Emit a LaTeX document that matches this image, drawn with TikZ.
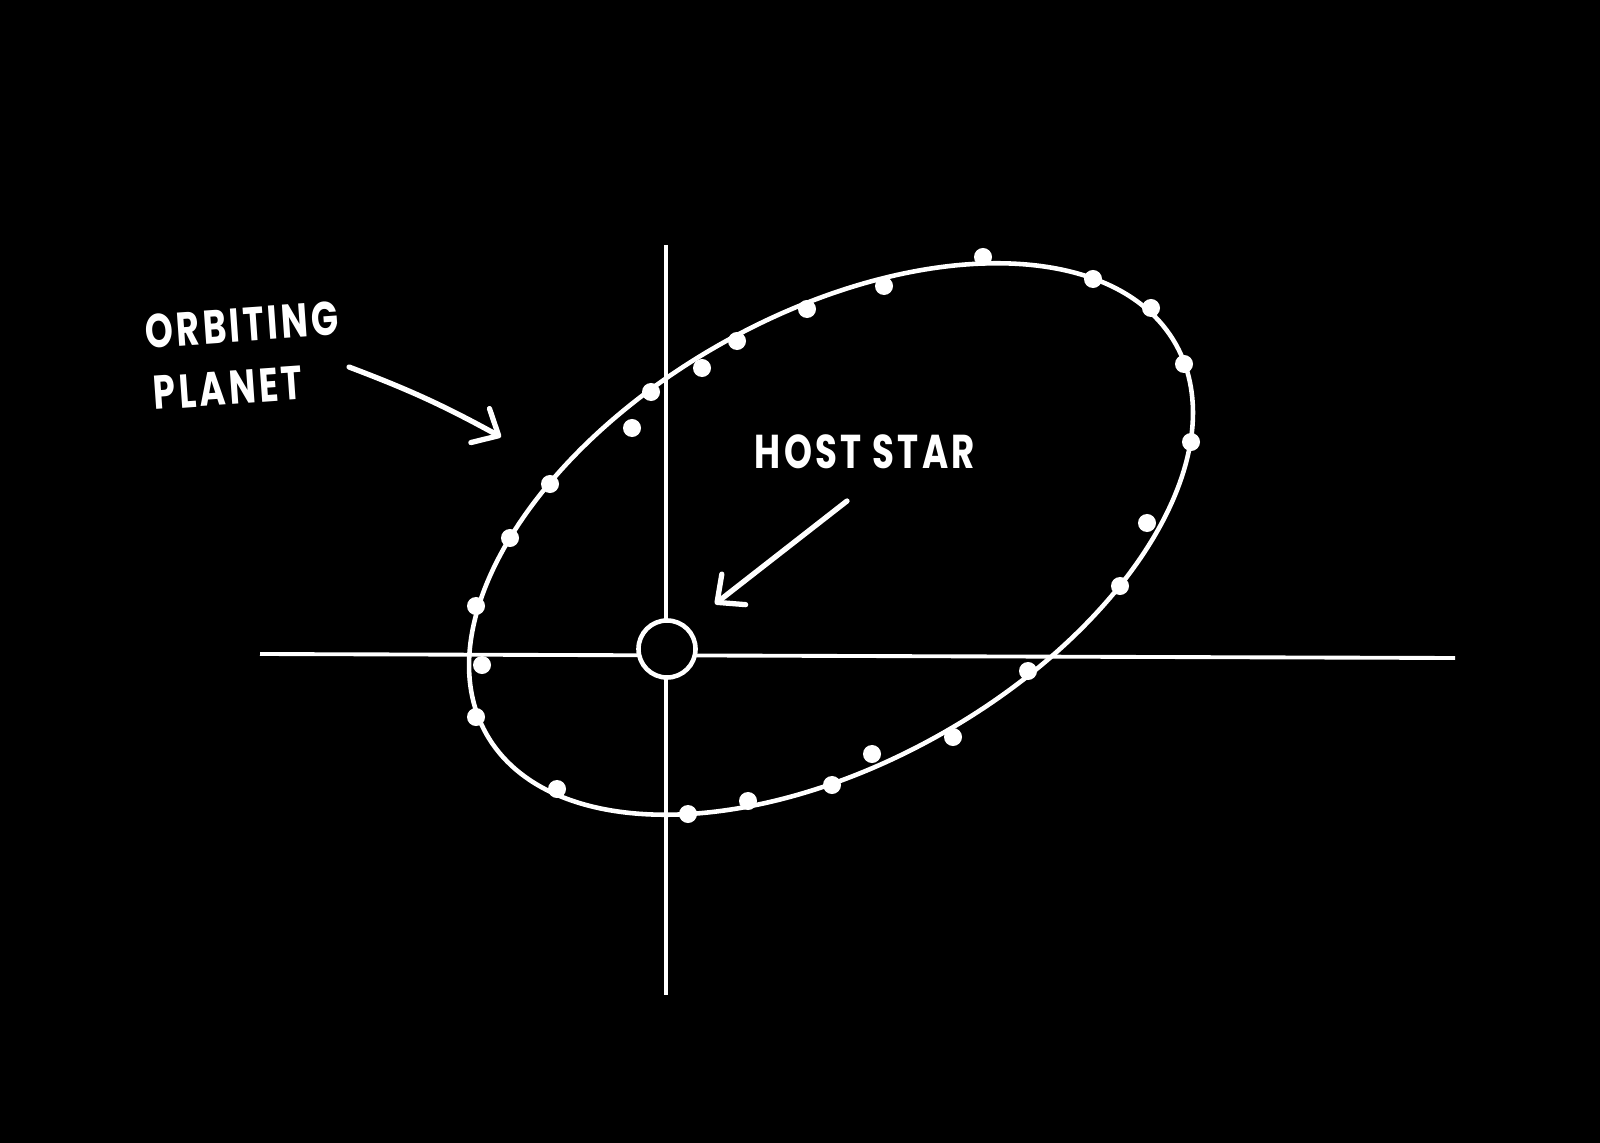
\documentclass[tikz,border=0pt]{standalone}
\usepackage{fontspec}
\newfontfamily\handfont{Poppins}[LetterSpace=7, FakeStretch=0.75]
\usetikzlibrary{arrows.meta}

\begin{document}
\begin{tikzpicture}[
  x=0.01cm, y=-0.01cm,
  axis/.style={white, line width=1.1pt},
  orbit/.style={white, line width=1.3pt},
  planet/.style={circle, fill=white, inner sep=0pt, minimum size=0.18cm},
  star/.style={circle, draw=white, fill=black, line width=1.3pt, inner sep=0pt, minimum size=0.57cm},
  lbl/.style={text=white, font=\handfont\bfseries\fontsize{13.5}{16}\selectfont, inner sep=0pt},
  pointer/.style={white, line width=1.5pt, line cap=round, -{Straight Barb[length=6pt, width=11pt, round]}}
]
  % background
  \fill[black] (0,0) rectangle (1600,1143);
  \useasboundingbox (0,0) rectangle (1600,1143);

  % axes
  \coordinate (xl) at (260,654);
  \coordinate (xr) at (1455,658);
  \coordinate (yt) at (666,245);
  \coordinate (yb) at (666,995);
  \draw[axis] (xl) -- (xr);
  \draw[axis] (yt) -- (yb);

  % orbit
  \draw[orbit, rotate around={29.5:(831,539)}] (831,539) ellipse [x radius=396, y radius=224];

  % host star
  \node[star] (host) at (667,649) {};

  % planet positions along the orbit
  \foreach \px/\py [count=\i] in {983/257, 1093/279, 1151/308, 1184/364, 1191/442,
      1147/523, 1120/586, 1028/671, 953/737, 872/754, 832/785, 748/801, 688/814,
      557/789, 476/717, 482/665, 476/606, 510/538, 550/484, 632/428, 651/392,
      702/368, 737/341, 807/309, 884/286}
    \node[planet] (p\i) at (\px,\py) {};

  % labels
  \node[lbl, rotate=4] (orbitlbl) at (242,325) {ORBITING};
  \node[lbl, rotate=4] (planetlbl) at (228,388) {PLANET};
  \node[lbl] (hostlbl) at (865,452) {HOST STAR};

  % pointers
  \coordinate (planettail) at (349,367);
  \coordinate (planettip) at (501,437);
  \draw[pointer] (planettail) to[bend left=4] (planettip);
  \coordinate (startail) at (847,501);
  \coordinate (startip) at (715,604);
  \draw[pointer] (startail) -- (startip);
\end{tikzpicture}
\end{document}
